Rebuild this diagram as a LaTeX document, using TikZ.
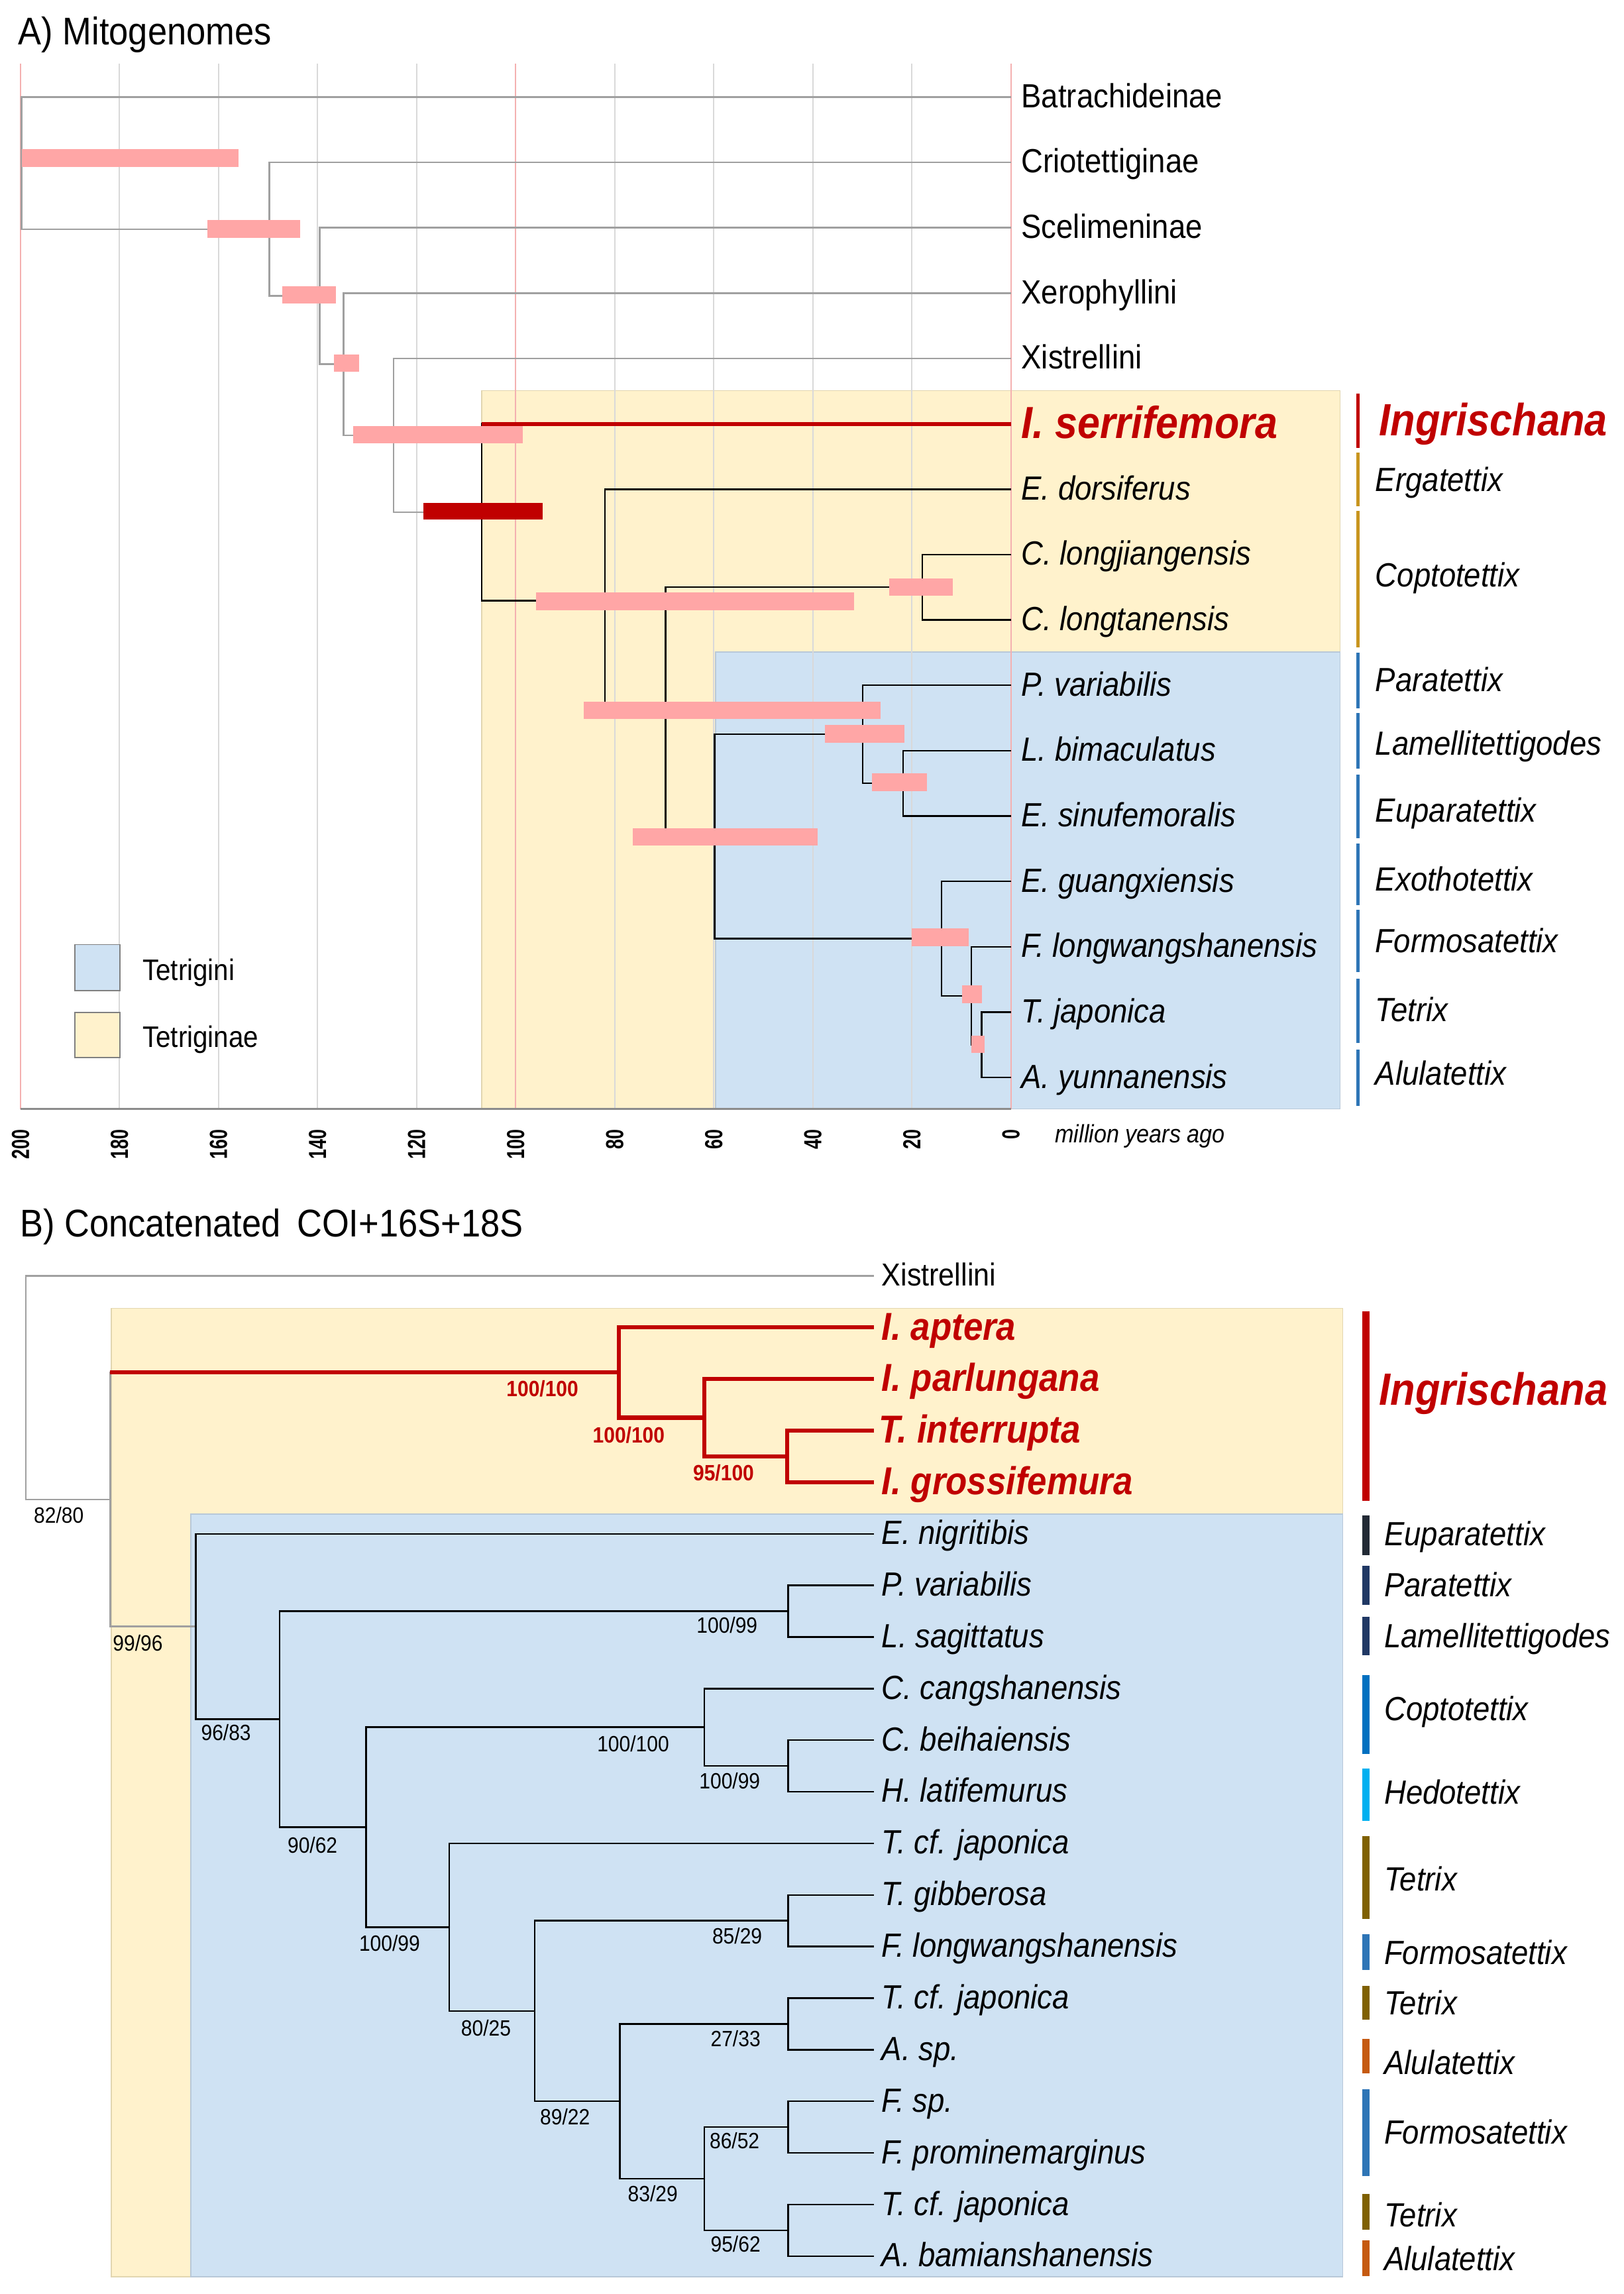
\documentclass[tikz,border=0pt]{standalone}
\usepackage{fontspec}
\setmainfont{Liberation Sans}
\newfontfamily\fa{Liberation Sans}[FakeStretch=0.9]
\newfontfamily\ft{Liberation Sans}[FakeStretch=0.72]
\definecolor{yel}{HTML}{FFF2CC}
\definecolor{blu}{HTML}{CFE2F3}
\definecolor{pinkbar}{HTML}{FFA6A6}
\definecolor{dred}{HTML}{C00000}
\definecolor{gold}{HTML}{C8951F}
\definecolor{mblue}{HTML}{2E75B6}
\definecolor{euc}{HTML}{222A35}
\definecolor{navy}{HTML}{203864}
\definecolor{copc}{HTML}{0070C0}
\definecolor{hedc}{HTML}{00B0F0}
\definecolor{tetc}{HTML}{7F6000}
\definecolor{aluc}{HTML}{C55A11}
\definecolor{gridg}{HTML}{D9D9D9}
\definecolor{gridr}{HTML}{F4B0B0}
\definecolor{lineg}{HTML}{A0A0A0}
\definecolor{axisg}{HTML}{8C8C8C}
\definecolor{boxy}{HTML}{E2D6B0}
\definecolor{boxbl}{HTML}{B8C8D8}
\begin{document}
\begin{tikzpicture}[x=1pt,y=-1pt,
  nm/.style={anchor=base west,inner sep=0pt,yshift=-7.2pt,font=\fa\fontsize{22.9}{24}\selectfont},
  spn/.style={nm,font=\fa\fontsize{22.9}{24}\selectfont\itshape},
  gen/.style={anchor=base west,inner sep=0pt,yshift=-8.2pt,font=\fa\fontsize{22.9}{24}\selectfont\itshape},
  rnA/.style={anchor=base west,inner sep=0pt,yshift=-10pt,text=dred,font=\fa\fontsize{30.7}{32}\selectfont\bfseries\itshape},
  rnB/.style={anchor=base west,inner sep=0pt,yshift=-8.5pt,text=dred,font=\fa\fontsize{26.6}{28}\selectfont\bfseries\itshape},
  ingr/.style={anchor=base west,inner sep=0pt,yshift=-11pt,text=dred,font=\fa\fontsize{30.9}{32}\selectfont\bfseries\itshape},
  bs/.style={anchor=base west,inner sep=0pt,yshift=-5.4pt,font=\fa\fontsize{15.1}{16}\selectfont},
  bsr/.style={bs,text=dred,font=\fa\fontsize{15.1}{16}\selectfont\bfseries},
  leg/.style={anchor=base west,inner sep=0pt,yshift=-7.3pt,font=\fa\fontsize{20.3}{22}\selectfont},
  ttl/.style={anchor=base west,inner sep=0pt,yshift=-9.45pt,font=\fa\fontsize{26.4}{28}\selectfont},
  xnm/.style={anchor=base west,inner sep=0pt,yshift=-6.8pt,font=\fa\fontsize{21.7}{23}\selectfont},
  myr/.style={anchor=base west,inner sep=0pt,yshift=-6.2pt,font=\fa\fontsize{17.2}{18}\selectfont\itshape},
  tick/.style={anchor=east,inner sep=0pt,rotate=90,font=\ft\fontsize{16.9}{18}\selectfont\bfseries},
  gl/.style={draw=lineg,line width=1.2pt},
  bl/.style={draw=black,line width=1.1pt},
  rl/.style={draw=dred,line width=2.8pt},
  hpd/.style={fill=pinkbar},
  gbarA/.style={line width=2.5pt},
  gbarB/.style={line width=5pt}
]
\useasboundingbox[fill=white] (0,0) rectangle (1110,1568);

%%%%%%%%%%%%%%%% PANEL A %%%%%%%%%%%%%%%%
\node[ttl] (titleA) at (12.4,21.2) {A) Mitogenomes};

% background boxes
\path[fill=yel,draw=boxy,line width=0.8pt] (329.2,267) rectangle (916,758);
\path[fill=blu,draw=boxbl,line width=0.8pt] (489,445.5) rectangle (916,758);

% grid lines
\foreach \t in {180,160,140,120,80,60,40,20}
  \draw[gridg,line width=0.9pt] ({691-3.385*\t},43.5) -- ({691-3.385*\t},758);
\foreach \t in {200,100,0}
  \draw[gridr,line width=0.9pt] ({691-3.385*\t},43.5) -- ({691-3.385*\t},758);
\draw[axisg,line width=1.5pt] (14,758) -- (691,758);
\foreach \t in {200,180,...,0}
  \node[tick] (tk\t) at ({691-3.385*\t},772) {\t};
\node[myr] (myrlab) at (721,775) {million years ago};

% tips A
\coordinate (a0) at (691,66.3);
\coordinate (a1) at (691,111.0);
\coordinate (a2) at (691,155.7);
\coordinate (a3) at (691,200.3);
\coordinate (a4) at (691,245.0);
\coordinate (a5) at (691,289.7);
\coordinate (a6) at (691,334.4);
\coordinate (a7) at (691,379.1);
\coordinate (a8) at (691,423.7);
\coordinate (a9) at (691,468.4);
\coordinate (a10) at (691,513.1);
\coordinate (a11) at (691,557.8);
\coordinate (a12) at (691,602.5);
\coordinate (a13) at (691,647.1);
\coordinate (a14) at (691,691.8);
\coordinate (a15) at (691,736.5);
% internal A
\coordinate (R) at (14.8,111.5);
\coordinate (N1) at (184,156.7);
\coordinate (N2) at (218.4,202.3);
\coordinate (N3) at (234.7,248.9);
\coordinate (N4) at (269,297.5);
\coordinate (N5) at (329.2,350.1);
\coordinate (N6) at (413.4,410.5);
\coordinate (N7) at (455,486.6);
\coordinate (N8) at (630.4,401.4);
\coordinate (N9) at (488.4,571.7);
\coordinate (N10) at (589.7,501.9);
\coordinate (N11) at (617.3,535.45);
\coordinate (N12) at (643.5,641.6);
\coordinate (N13) at (664,680.6);
\coordinate (N14) at (671,714.15);

% branches A
\draw[gl] (R) |- (a0);
\draw[gl] (R) |- (N1);
\draw[gl] (N1) |- (a1);
\draw[gl] (N1) |- (N2);
\draw[gl] (N2) |- (a2);
\draw[gl] (N2) |- (N3);
\draw[gl] (N3) |- (a3);
\draw[gl] (N3) |- (N4);
\draw[gl] (N4) |- (a4);
\draw[gl] (N4) |- (N5);
\draw[bl] (N5) |- (a5);
\draw[rl] (N5 |- a5) -- (a5);
\draw[bl] (N5) |- (N6);
\draw[bl] (N6) |- (a6);
\draw[bl] (N6) |- (N7);
\draw[bl] (N7) |- (N8);
\draw[bl] (N7) |- (N9);
\draw[bl] (N8) |- (a7);
\draw[bl] (N8) |- (a8);
\draw[bl] (N9) |- (N10);
\draw[bl] (N9) |- (N12);
\draw[bl] (N10) |- (a9);
\draw[bl] (N10) |- (N11);
\draw[bl] (N11) |- (a10);
\draw[bl] (N11) |- (a11);
\draw[bl] (N12) |- (a12);
\draw[bl] (N12) |- (N13);
\draw[bl] (N13) |- (a13);
\draw[bl] (N13) |- (N14);
\draw[bl] (N14) |- (a14);
\draw[bl] (N14) |- (a15);

% HPD bars
\fill[hpd] (15,102) rectangle (163,114);
\fill[hpd] (141.6,150.4) rectangle (205.3,162.4);
\fill[hpd] (192.9,195.5) rectangle (229.4,207.5);
\fill[hpd] (228.3,242.2) rectangle (245.3,254.2);
\fill[hpd] (241.4,291) rectangle (357.5,303);
\fill[dred] (289.5,343.6) rectangle (371,355);
\fill[hpd] (366.3,405) rectangle (584,417);
\fill[hpd] (399.2,479.5) rectangle (601.7,491.5);
\fill[hpd] (608,395.2) rectangle (651.5,407.2);
\fill[hpd] (432.5,566) rectangle (559,578);
\fill[hpd] (564,495.7) rectangle (618,507.7);
\fill[hpd] (596,528.7) rectangle (633.4,540.7);
\fill[hpd] (623.4,634.7) rectangle (662,646.7);
\fill[hpd] (657.5,673.7) rectangle (671,685.7);
\fill[hpd] (663.8,707.8) rectangle (672.8,719.8);

% tip labels A
\node[nm] (la0) at (698,66.3) {Batrachideinae};
\node[nm] (la1) at (698,111.0) {Criotettiginae};
\node[nm] (la2) at (698,155.7) {Scelimeninae};
\node[nm] (la3) at (698,200.3) {Xerophyllini};
\node[nm] (la4) at (698,245.0) {Xistrellini};
\node[rnA] (la5) at (698,289.7) {I. serrifemora};
\node[spn] (la6) at (698,334.4) {E. dorsiferus};
\node[spn] (la7) at (698,379.1) {C. longjiangensis};
\node[spn] (la8) at (698,423.7) {C. longtanensis};
\node[spn] (la9) at (698,468.4) {P. variabilis};
\node[spn] (la10) at (698,513.1) {L. bimaculatus};
\node[spn] (la11) at (698,557.8) {E. sinufemoralis};
\node[spn] (la12) at (698,602.5) {E. guangxiensis};
\node[spn] (la13) at (698,647.1) {F. longwangshanensis};
\node[spn] (la14) at (698,691.8) {T. japonica};
\node[spn] (la15) at (698,736.5) {A. yunnanensis};

% genus bars A
\draw[dred,gbarA] (928.3,269) -- (928.3,306);
\draw[gold,gbarA] (928.3,309.5) -- (928.3,346);
\draw[gold,gbarA] (928.3,349) -- (928.3,442.5);
\draw[mblue,gbarA] (928.3,446) -- (928.3,484);
\draw[mblue,gbarA] (928.3,487.5) -- (928.3,525.6);
\draw[mblue,gbarA] (928.3,529.6) -- (928.3,573);
\draw[mblue,gbarA] (928.3,576.6) -- (928.3,618.5);
\draw[mblue,gbarA] (928.3,622) -- (928.3,664.6);
\draw[mblue,gbarA] (928.3,669) -- (928.3,713);
\draw[mblue,gbarA] (928.3,717.6) -- (928.3,756);
\node[ingr] (ga0) at (942.5,287) {Ingrischana};
\node[gen] (ga1) at (940,327.7) {Ergatettix};
\node[gen] (ga2) at (940,393) {Coptotettix};
\node[gen] (ga3) at (940,464.5) {Paratettix};
\node[gen] (ga4) at (940,507.7) {Lamellitettigodes};
\node[gen] (ga5) at (940,553.6) {Euparatettix};
\node[gen] (ga6) at (940,600.8) {Exothotettix};
\node[gen] (ga7) at (940,642.8) {Formosatettix};
\node[gen] (ga8) at (940,689.8) {Tetrix};
\node[gen] (ga9) at (940,733.5) {Alulatettix};

% legend A
\path[fill=blu,draw=gray,line width=0.8pt] (51.3,645.6) rectangle (82,677);
\path[fill=yel,draw=gray,line width=0.8pt] (51.3,692) rectangle (82,723);
\node[leg] (legT) at (97.3,663) {Tetrigini};
\node[leg] (legTe) at (97.3,708.6) {Tetriginae};

%%%%%%%%%%%%%%%% PANEL B %%%%%%%%%%%%%%%%
\node[ttl] (titleB) at (13.5,836) {B) Concatenated\, COI+16S+18S};

\path[fill=yel,draw=boxy,line width=0.8pt] (76.1,894.3) rectangle (917.8,1556.3);
\path[fill=blu,draw=boxbl,line width=0.8pt] (130.3,1035) rectangle (917.8,1556.3);

% tips B
\coordinate (b0) at (597.5,872.0);
\coordinate (b1) at (597.5,907.3);
\coordinate (b2) at (597.5,942.5);
\coordinate (b3) at (597.5,977.8);
\coordinate (b4) at (597.5,1013.1);
\coordinate (b5) at (597.5,1048.4);
\coordinate (b6) at (597.5,1083.6);
\coordinate (b7) at (597.5,1118.9);
\coordinate (b8) at (597.5,1154.2);
\coordinate (b9) at (597.5,1189.4);
\coordinate (b10) at (597.5,1224.7);
\coordinate (b11) at (597.5,1260.0);
\coordinate (b12) at (597.5,1295.2);
\coordinate (b13) at (597.5,1330.5);
\coordinate (b14) at (597.5,1365.8);
\coordinate (b15) at (597.5,1401.1);
\coordinate (b16) at (597.5,1436.3);
\coordinate (b17) at (597.5,1471.6);
\coordinate (b18) at (597.5,1506.9);
\coordinate (b19) at (597.5,1542.1);
% internal B
\coordinate (Rb) at (17.7,948.5);
\coordinate (T) at (75.4,1025.0);
\coordinate (I1) at (423,938.1);
\coordinate (I2) at (481.4,969.0);
\coordinate (I3) at (538,995.45);
\coordinate (G) at (133.8,1111.8);
\coordinate (A) at (191.1,1175.1);
\coordinate (PL) at (538.7,1101.25);
\coordinate (C) at (250.2,1249.0);
\coordinate (CC) at (481.4,1180.6);
\coordinate (BH) at (538.7,1207.05);
\coordinate (D) at (307.2,1317.3);
\coordinate (E) at (365.6,1374.6);
\coordinate (GF) at (538.7,1312.85);
\coordinate (F) at (423.7,1436.3);
\coordinate (TA) at (538.7,1383.45);
\coordinate (H) at (481.4,1489.2);
\coordinate (FF) at (538.7,1453.95);
\coordinate (TB) at (538.7,1524.5);

% branches B
\draw[gl] (Rb) |- (b0);
\draw[gl] (Rb) |- (T);
\draw[gl] (T) |- (I1);
\draw[gl] (T) |- (G);
\draw[rl] (T |- I1) -- (I1);
\draw[rl] (I1) |- (b1);
\draw[rl] (I1) |- (I2);
\draw[rl] (I2) |- (b2);
\draw[rl] (I2) |- (I3);
\draw[rl] (I3) |- (b3);
\draw[rl] (I3) |- (b4);
\draw[bl] (G) |- (b5);
\draw[bl] (G) |- (A);
\draw[bl] (A) |- (PL);
\draw[bl] (A) |- (C);
\draw[bl] (PL) |- (b6);
\draw[bl] (PL) |- (b7);
\draw[bl] (C) |- (CC);
\draw[bl] (C) |- (D);
\draw[bl] (CC) |- (b8);
\draw[bl] (CC) |- (BH);
\draw[bl] (BH) |- (b9);
\draw[bl] (BH) |- (b10);
\draw[bl] (D) |- (b11);
\draw[bl] (D) |- (E);
\draw[bl] (E) |- (GF);
\draw[bl] (E) |- (F);
\draw[bl] (GF) |- (b12);
\draw[bl] (GF) |- (b13);
\draw[bl] (F) |- (TA);
\draw[bl] (F) |- (H);
\draw[bl] (TA) |- (b14);
\draw[bl] (TA) |- (b15);
\draw[bl] (H) |- (FF);
\draw[bl] (H) |- (TB);
\draw[bl] (FF) |- (b16);
\draw[bl] (FF) |- (b17);
\draw[bl] (TB) |- (b18);
\draw[bl] (TB) |- (b19);

% support values
\node[bs] (s1) at (23,1035.7) {82/80};
\node[bs] (s2) at (77,1123) {99/96};
\node[bs] (s3) at (137.3,1184) {96/83};
\node[bs] (s4) at (196.4,1261.2) {90/62};
\node[bs] (s5) at (245.3,1328) {100/99};
\node[bs] (s6) at (315,1386) {80/25};
\node[bs] (s7) at (369,1447) {89/22};
\node[bs] (s8) at (429,1499.6) {83/29};
\node[bs] (s9) at (484.9,1463.2) {86/52};
\node[bs] (s10) at (485.6,1533.6) {95/62};
\node[bs] (s11) at (485.6,1393.3) {27/33};
\node[bs] (s12) at (486.7,1323.3) {85/29};
\node[bs] (s13) at (408,1191.9) {100/100};
\node[bs] (s14) at (477.8,1217.3) {100/99};
\node[bs] (s15) at (476,1111) {100/99};
\node[bsr] (s16) at (346,949) {100/100};
\node[bsr] (s17) at (405,981) {100/100};
\node[bsr] (s18) at (473.6,1006.6) {95/100};

% tip labels B
\node[xnm] (lb0) at (602.5,872.0) {Xistrellini};
\node[rnB] (lb1) at (602.5,907.3) {I. aptera};
\node[rnB] (lb2) at (602.5,942.5) {I. parlungana};
\node[rnB] (lb3) at (600.5,977.8) {T. interrupta};
\node[rnB] (lb4) at (602.5,1013.1) {I. grossifemura};
\node[spn] (lb5) at (602.5,1048.4) {E. nigritibis};
\node[spn] (lb6) at (602.5,1083.6) {P. variabilis};
\node[spn] (lb7) at (602.5,1118.9) {L. sagittatus};
\node[spn] (lb8) at (602.5,1154.2) {C. cangshanensis};
\node[spn] (lb9) at (602.5,1189.4) {C. beihaiensis};
\node[spn] (lb10) at (602.5,1224.7) {H. latifemurus};
\node[spn] (lb11) at (602.5,1260.0) {T. cf. japonica};
\node[spn] (lb12) at (602.5,1295.2) {T. gibberosa};
\node[spn] (lb13) at (602.5,1330.5) {F. longwangshanensis};
\node[spn] (lb14) at (602.5,1365.8) {T. cf. japonica};
\node[spn] (lb15) at (602.5,1401.1) {A. sp.};
\node[spn] (lb16) at (602.5,1436.3) {F. sp.};
\node[spn] (lb17) at (602.5,1471.6) {F. prominemarginus};
\node[spn] (lb18) at (602.5,1506.9) {T. cf. japonica};
\node[spn] (lb19) at (602.5,1542.1) {A. bamianshanensis};

% genus bars B
\draw[dred,gbarB] (933.8,896.3) -- (933.8,1026);
\draw[euc,gbarB] (933.8,1035.7) -- (933.8,1063);
\draw[navy,gbarB] (933.8,1070.4) -- (933.8,1097);
\draw[navy,gbarB] (933.8,1105) -- (933.8,1131.6);
\draw[copc,gbarB] (933.8,1145) -- (933.8,1199);
\draw[hedc,gbarB] (933.8,1209) -- (933.8,1244.6);
\draw[tetc,gbarB] (933.8,1255) -- (933.8,1311.6);
\draw[mblue,gbarB] (933.8,1322) -- (933.8,1346.5);
\draw[tetc,gbarB] (933.8,1357.5) -- (933.8,1380.5);
\draw[aluc,gbarB] (933.8,1393.8) -- (933.8,1417);
\draw[mblue,gbarB] (933.8,1428) -- (933.8,1487.5);
\draw[tetc,gbarB] (933.8,1499.6) -- (933.8,1524);
\draw[aluc,gbarB] (933.8,1531.4) -- (933.8,1555.6);
\node[ingr] (gb0) at (942.6,949.6) {Ingrischana};
\node[gen] (gb1) at (946,1048) {Euparatettix};
\node[gen] (gb2) at (946,1083) {Paratettix};
\node[gen] (gb3) at (946,1118) {Lamellitettigodes};
\node[gen] (gb4) at (946,1168) {Coptotettix};
\node[gen] (gb5) at (946,1224.7) {Hedotettix};
\node[gen] (gb6) at (946,1284.3) {Tetrix};
\node[gen] (gb7) at (946,1334.3) {Formosatettix};
\node[gen] (gb8) at (946,1369) {Tetrix};
\node[gen] (gb9) at (946,1409.7) {Alulatettix};
\node[gen] (gb10) at (946,1457) {Formosatettix};
\node[gen] (gb11) at (946,1514) {Tetrix};
\node[gen] (gb12) at (946,1543.5) {Alulatettix};
\end{tikzpicture}
\end{document}
